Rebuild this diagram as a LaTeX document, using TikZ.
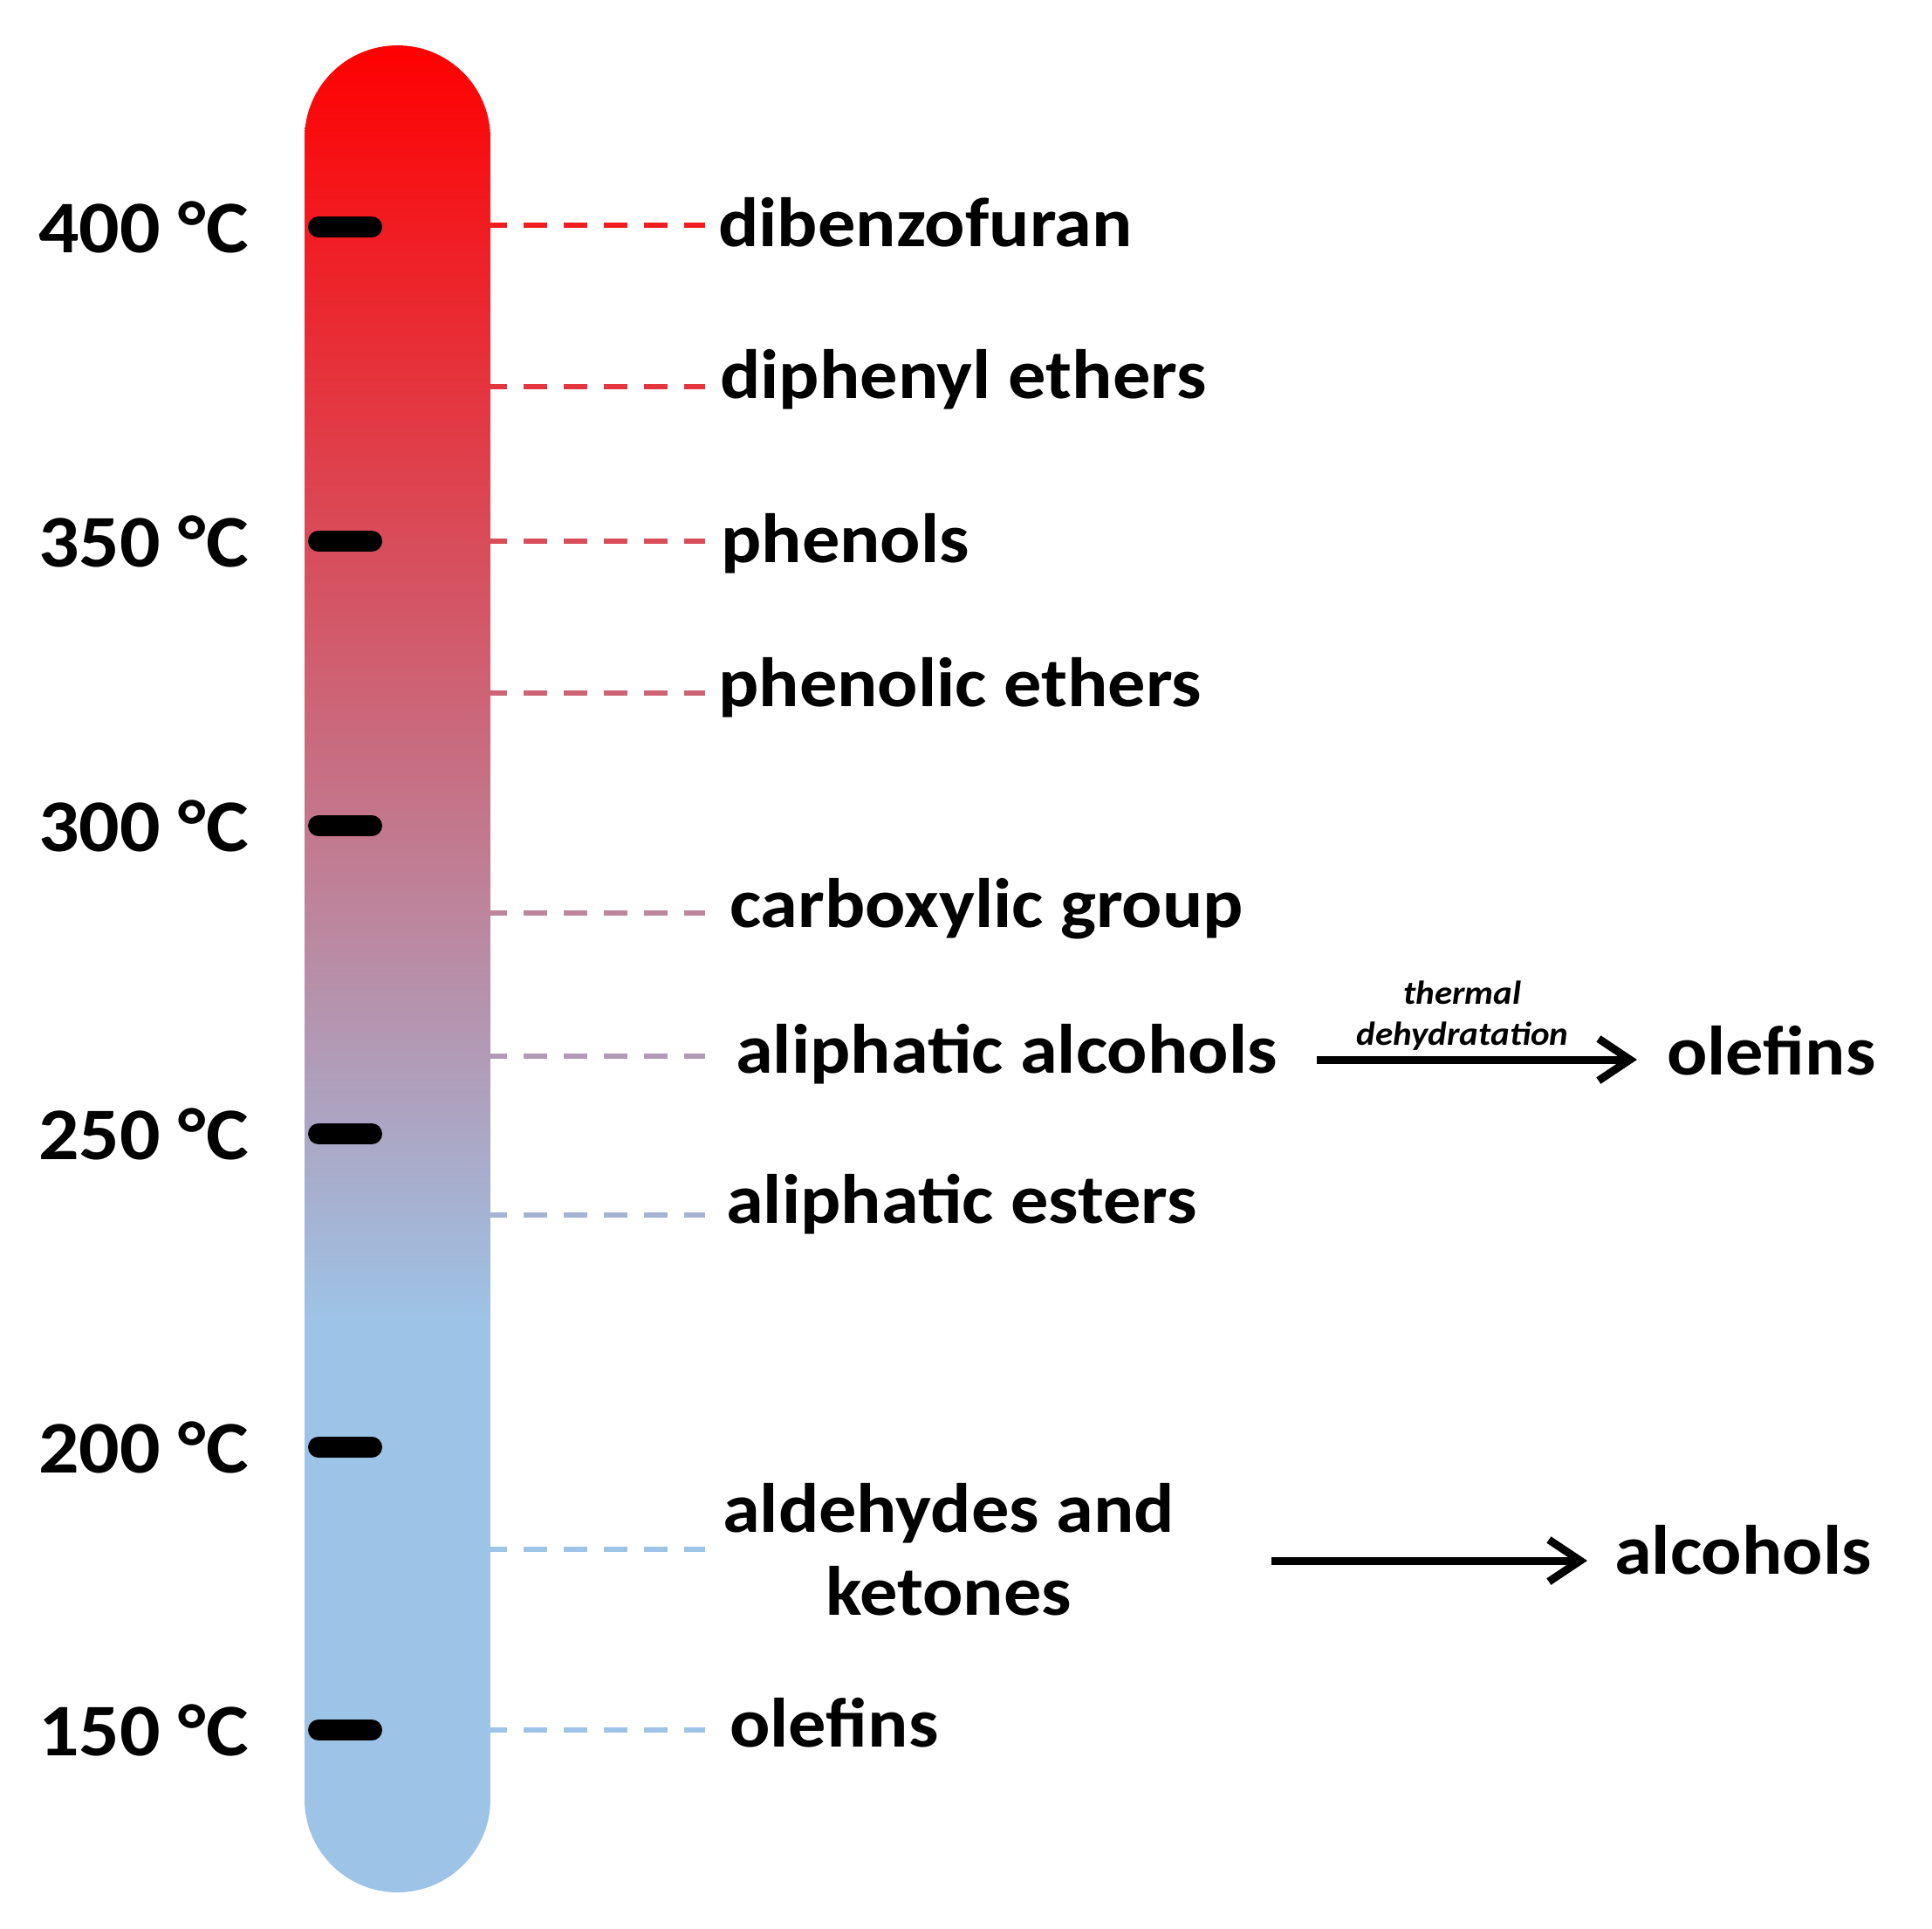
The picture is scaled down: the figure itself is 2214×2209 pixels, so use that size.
\documentclass[tikz,border=0pt]{standalone}
\usepackage{fontspec}
\setmainfont{Carlito}[FakeStretch=1.08]
\usetikzlibrary{arrows.meta}
\definecolor{tblue}{HTML}{9DC3E6}
\definecolor{tred}{HTML}{FF0000}
\begin{document}
\begin{tikzpicture}[x=1pt,y=-1pt,
  lab/.style={anchor=base west, inner sep=0pt, font=\fontsize{80}{96}\selectfont\bfseries},
  temp/.style={anchor=east, inner sep=0pt, font=\fontsize{85}{100}\selectfont\bfseries},
  tickmark/.style={line width=24pt, line cap=round},
  guide/.style={line width=6pt, dash pattern=on 27pt off 19pt, dash phase=8pt},
  arr/.style={line width=9pt, -{Straight Barb[length=36pt,width=48pt]}},
  small/.style={anchor=base, inner sep=0pt, font=\fontsize{38}{46}\selectfont\bfseries\itshape}]
\useasboundingbox (0,0) rectangle (2214,2209);
\fill[white] (0,0) rectangle (2214,2209);
% thermometer
\begin{scope}
\clip[rounded corners=106.5pt] (349,52) rectangle (562,2168);
\shade[top color=tred, bottom color=tblue] (349,52) rectangle (562,1510);
\fill[tblue] (349,1509) rectangle (562,2168);
\end{scope}
% ticks and temperatures
\foreach \y/\t [count=\i] in {260/400, 620/350, 946/300, 1299/250, 1658/200, 1982/150}{
  \coordinate (tkA\i) at (365,\y);
  \coordinate (tkB\i) at (426,\y);
  \draw[tickmark] (tkA\i) -- (tkB\i);
  \node[temp] (temp\i) at (285,\y) {\t\ °C};
}
% labels
\node[lab] (l1) at (823,282) {dibenzofuran};
\node[lab] (l2) at (825,456) {diphenyl ethers};
\node[lab] (l3) at (826,644) {phenols};
\node[lab] (l4) at (823,809) {phenolic ethers};
\node[lab] (l5) at (836,1062) {carboxylic group};
\node[lab] (l6) at (843,1229) {aliphatic alcohols};
\node[lab] (l7) at (832,1401) {aliphatic esters};
\node[inner sep=0pt, align=center, font=\fontsize{80}{95}\selectfont\bfseries] (l8) at (1087,1775) {aldehydes and\\ketones};
\node[lab] (l9) at (836,2001) {olefins};
% guide lines
\foreach \y/\f [count=\i] in {258/14, 443/27, 620/39, 794/51, 1046/68, 1210/79, 1392/92, 1775/100, 1982/100}{
  \coordinate (gs\i) at (562,\y);
  \coordinate (ge\i) at (808,\y);
  \draw[guide, draw=tblue!\f!tred] (gs\i) -- (ge\i);
}
% right side
\node[lab] (ole) at (1910,1231) {olefins};
\node[lab] (alc) at (1850,1803) {alcohols};
\node[small] (th1) at (1676,1150) {thermal};
\node[small] (th2) at (1676,1197) {dehydratation};
\draw[arr, shorten <=45pt, shorten >=34pt] (l6.east |- 0,1214) -- (ole.west |- 0,1214);
\draw[arr, shorten <=111pt, shorten >=31pt] (l8.east |- 0,1788) -- (alc.west |- 0,1788);
\end{tikzpicture}
\end{document}
